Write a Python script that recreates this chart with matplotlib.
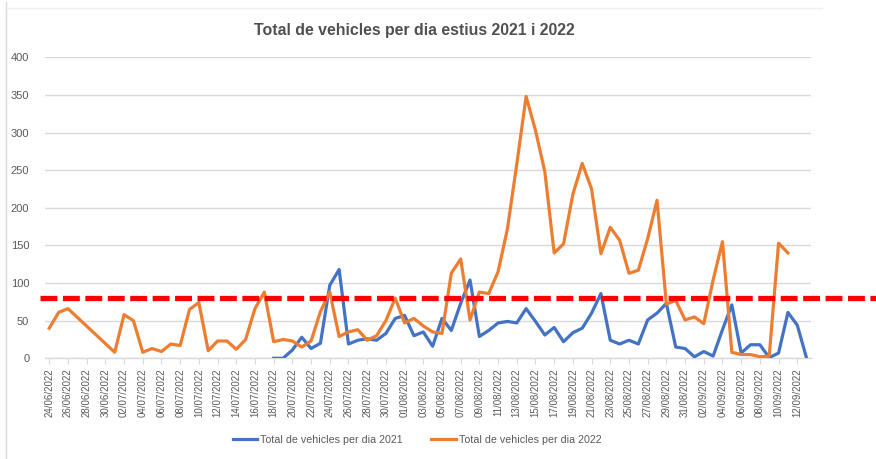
import matplotlib
matplotlib.use("Agg")
import matplotlib.pyplot as plt
import matplotlib.dates as mdates
import matplotlib.transforms as mtransforms
from matplotlib.lines import Line2D
import numpy as np
import pandas as pd

# ---- data ----
start_date = "2022-06-24"
end_date = "2022-09-13"
nan = np.nan

series_2021_label = "Total de vehicles per dia 2021"
series_2022_label = "Total de vehicles per dia 2022"
title_text = "Total de vehicles per dia estius 2021 i 2022"

vehicles_2021 = [
    nan, nan, nan, nan, nan, nan, nan, nan, nan, nan,   # 24/06-03/07
    nan, nan, nan, nan, nan, nan, nan, nan, nan, nan,   # 04/07-13/07
    nan, nan, nan, nan, 0, 0, 11, 28, 13, 20,           # 14/07-23/07
    97, 118, 19, 24, 26, 24, 33, 53, 57, 30,            # 24/07-02/08
    35, 16, 53, 37, 73, 104, 29, 37, 47, 49,            # 03/08-12/08
    47, 66, 49, 31, 41, 22, 34, 40, 60, 86,             # 13/08-22/08
    24, 19, 24, 19, 51, 60, 73, 15, 13, 2,              # 23/08-01/09
    9, 3, 38, 71, 7, 18, 18, 1, 7, 61,                  # 02/09-11/09
    44, 0,                                              # 12/09-13/09
]

vehicles_2022 = [
    40, 61, 66, nan, nan, nan, nan, 8, 58, 50,          # 24/06-03/07
    8, 13, 9, 19, 17, 65, 74, 10, 23, 23,               # 04/07-13/07
    12, 25, 66, 88, 22, 25, 23, 15, 23, 62,             # 14/07-23/07
    88, 29, 35, 38, 24, 30, 50, 80, 47, 53,             # 24/07-02/08
    43, 35, 33, 113, 132, 51, 88, 86, 115, 172,         # 03/08-12/08
    258, 348, 303, 248, 140, 152, 218, 259, 225, 139,   # 13/08-22/08
    174, 157, 113, 117, 159, 210, 72, 77, 51, 55,       # 23/08-01/09
    46, 104, 155, 8, 5, 5, 2, 3, 153, 140,              # 02/09-11/09
    nan, nan,                                           # 12/09-13/09
]

threshold = 80
y_ticks = [0, 50, 100, 150, 200, 250, 300, 350, 400]

dates = pd.date_range(start_date, end_date, freq="D")
tick_dates = dates[::2]

# ---- figure ----
W, H = 876, 459
fig = plt.figure(figsize=(W / 100, H / 100), dpi=100)
plt.rcParams["font.family"] = ["Liberation Sans", "DejaVu Sans"]

ax = fig.add_axes([44.6 / W, 1 - 358.3 / H, (811.3 - 44.6) / W, (358.3 - 57.3) / H])

blue = "#4472C4"
orange = "#ED7D31"
grey_text = "#595959"
grid_col = "#d9d9d9"

s21 = pd.Series(vehicles_2021, index=dates).dropna()
s22 = pd.Series(vehicles_2022, index=dates).dropna()

ax.plot(s21.index, s21.values, color=blue, lw=2.3, solid_joinstyle="round",
        label=series_2021_label, zorder=3)
ax.plot(s22.index, s22.values, color=orange, lw=2.3, solid_joinstyle="round",
        label=series_2022_label, zorder=3)

half = pd.Timedelta(hours=12)
ax.set_xlim(dates[0] - half, dates[-1] + half)
ax.set_ylim(0, 400)
ax.set_yticks(y_ticks)
ax.yaxis.grid(True, color=grid_col, lw=1)
ax.set_axisbelow(True)

ax.set_xticks(tick_dates)
ax.xaxis.set_major_formatter(mdates.DateFormatter("%d/%m/%Y"))
for lab in ax.get_xticklabels():
    lab.set_rotation(90)

ax.tick_params(axis="x", length=4, color=grid_col, pad=3, labelsize=7, labelcolor=grey_text)
ax.tick_params(axis="y", length=0, pad=11, labelsize=8, labelcolor=grey_text)

for side in ["top", "right", "left"]:
    ax.spines[side].set_visible(False)
ax.spines["bottom"].set_color(grid_col)
ax.spines["bottom"].set_linewidth(1)

# red dashed threshold line extending to figure edge
trans = mtransforms.blended_transform_factory(fig.transFigure, ax.transData)
red = Line2D([40 / W, 1.0], [threshold, threshold], transform=trans, color="#FF0000",
             lw=3.8, dashes=(3.2, 1.05), clip_on=False, zorder=5)
ax.add_line(red)

fig.text(414 / W, 1 - 31 / H, title_text, ha="center", va="center",
         fontsize=11.4, fontweight="bold", color="#505050")

leg = fig.legend(loc="center", bbox_to_anchor=(417 / W, 1 - 440 / H), ncol=2,
                 frameon=False, fontsize=7.7, labelcolor=grey_text,
                 handlelength=2.3, handletextpad=0.3, columnspacing=2.6)

# chart frame (left and top edges)
fig.add_artist(Line2D([6 / W, 6 / W], [0, 1 - 2 / H], transform=fig.transFigure,
                      color=grid_col, lw=1))
fig.add_artist(Line2D([6 / W, 822 / W], [1 - 8 / H, 1 - 8 / H], transform=fig.transFigure,
                      color="#eeeeee", lw=1))

fig.savefig("out.png", dpi=100)
